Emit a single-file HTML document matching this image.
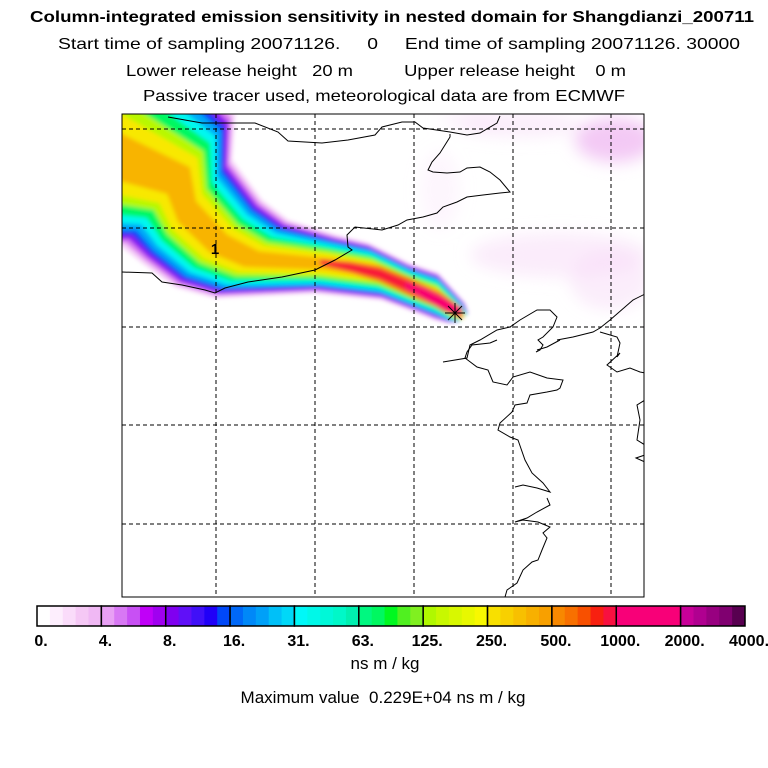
<!DOCTYPE html>
<html><head><meta charset="utf-8"><style>
html,body{margin:0;padding:0;background:#fff;}
svg{display:block;font-family:"Liberation Sans",sans-serif;}
text{white-space:pre;}
</style></head><body>
<svg id="chart" width="768" height="768" viewBox="0 0 768 768" xml:space="preserve">
<defs>
<clipPath id="mapclip"><rect x="122" y="114" width="522" height="483"/></clipPath>
<filter id="soft" x="-10%" y="-10%" width="120%" height="120%"><feGaussianBlur stdDeviation="2"/></filter>
<filter id="haze"><feGaussianBlur stdDeviation="8"/></filter>
</defs>
<text x="392" y="22" font-size="16" font-weight="bold" text-anchor="middle" textLength="724" lengthAdjust="spacingAndGlyphs">Column-integrated emission sensitivity in nested domain for Shangdianzi_200711</text>
<text x="399" y="49" font-size="16" text-anchor="middle" textLength="682" lengthAdjust="spacingAndGlyphs">Start time of sampling 20071126.     0     End time of sampling 20071126. 30000</text>
<text x="376" y="76" font-size="16" text-anchor="middle" textLength="500" lengthAdjust="spacingAndGlyphs">Lower release height   20 m          Upper release height    0 m</text>
<text x="384" y="101" font-size="16" text-anchor="middle" textLength="482" lengthAdjust="spacingAndGlyphs">Passive tracer used, meteorological data are from ECMWF</text>

<g clip-path="url(#mapclip)">
  <g id="haze" filter="url(#haze)" fill="#f8dcf8">
    <ellipse cx="615" cy="140" rx="40" ry="22" fill="#f0bcf2" opacity="0.8"/>
    <ellipse cx="520" cy="125" rx="60" ry="12" opacity="0.5"/>
    <ellipse cx="560" cy="255" rx="90" ry="22" opacity="0.55"/>
    <ellipse cx="610" cy="280" rx="40" ry="30" opacity="0.5"/>
    <ellipse cx="440" cy="190" rx="20" ry="40" opacity="0.25"/>
    <ellipse cx="470" cy="120" rx="30" ry="8" opacity="0.4"/>
  </g>
  <g id="plume" filter="url(#soft)"></g>
  <g id="grid"></g>
  <g fill="none" stroke="#000" stroke-width="1">
    <polyline points="168,117 185,120 202,123 255,123 278,132 288,141 322,143 348,140 375,135 382,127 402,122 415,122 423,128 450,132 467,135 480,133 497,123 500,116"/>
    <polyline points="450,134 450,137 440,153 432,162 428,170 433,172 447,173 460,172 467,168 480,167 490,172 500,180 510,192 500,193 483,195 467,197 457,202 443,207 437,213 423,217 407,220 398,225 382,230 355,227 347,235 348,247 352,250 335,260 315,270 282,277 248,282 225,288 215,293 205,290 182,285 162,282 152,273 122,272"/>
    <polyline points="443,362 467,358 470,345 480,340 497,330 510,327 520,320 537,310 550,310 557,317 553,327 543,337 538,340 543,345 540,350 536,352"/>
    <polyline points="557,340 573,337 593,332 600,328 610,320 633,300 645,294"/>
    <polyline points="600,332 617,337 620,343 617,357 620,353 607,365 617,372 630,368 640,372 645,373"/>
    <polyline points="497,340 490,343 472,345 467,352 465,358 477,367 488,370 493,382 507,385 513,377 530,372 547,378 563,380 560,388 557,390 547,392 530,395 527,403 515,405 512,412 500,423 498,430 510,437 518,440 525,460 532,473 543,483 550,492 537,488 523,485 515,487"/>
    <polyline points="547,498 550,505 537,512 527,518 515,522 523,520 538,522 550,527 543,533 547,538 542,550 538,560 532,562 523,570 517,583 507,590 505,597"/>
    <polyline points="537,350 547,347 560,340"/>
    <polyline points="645,400 637,405 640,420 637,440 645,445"/>
    <polyline points="645,455 636,458 645,462"/>
  </g>
  <text x="215" y="254" font-size="15" font-weight="bold" text-anchor="middle">1</text>
  <g stroke="#000" stroke-width="1">
    <line x1="445" y1="313" x2="465" y2="313"/><line x1="455" y1="303" x2="455" y2="323"/>
    <line x1="448" y1="306" x2="462" y2="320"/><line x1="462" y1="306" x2="448" y2="320"/>
  </g>
</g>
<rect x="122" y="114" width="522" height="483" fill="none" stroke="#000" stroke-width="1"/>

<g id="colorbar"></g>
<text x="385" y="669" font-size="17" text-anchor="middle">ns m / kg</text>
<text x="383" y="703" font-size="17" text-anchor="middle">Maximum value  0.229E+04 ns m / kg</text>
</svg>
<script>
// Colorbar data
const levelLabels = ["0.","4.","8.","16.","31.","63.","125.","250.","500.","1000.","2000.","4000."];
const segmentShades = [
  ["#ffffff","#fdeefd","#fadcfa","#f5c8f5","#f0b8f4"],
  ["#e8a0f4","#d878f4","#c850f4","#c000f8","#a000f0"],
  ["#8000f0","#6010f8","#4010f8","#2000f8","#0048f8"],
  ["#0068f8","#0088f8","#00a0f8","#00c0f8","#00d8f8"],
  ["#00f8f8","#00f8e8","#00f8d8","#00f8c8","#00f0b0"],
  ["#00f880","#00f860","#00f820","#50f020","#80f020"],
  ["#b0f800","#c8f800","#d8f800","#e8f800","#f8f800"],
  ["#f8e000","#f8d000","#f8c000","#f8b000","#f8a000"],
  ["#f88800","#f87000","#f85000","#f82010","#f81040"],
  ["#f80078","#f80078","#f80078","#f80078","#f80078"],
  ["#c80098","#b00090","#980080","#800070","#580050"]
];
// Plume outer edges (paired top/bottom)
const topX = [120,235,232,262,288,335,368,408,438,465,468];
const topY = [-10,114,160,200,220,235,243,263,273,303,313];
const botX = [-60,122,142,175,215,315,382,415,435,448,458];
const botY = [260,247,263,287,298,293,300,312,320,323,322];
const plumeLevels = [1.0,0.94,0.88,0.82,0.75,0.66,0.56,0.44,0.34,0.2];
const plumeColors = ["#f6cff8","#d878f0","#8a10f0","#1040f8","#00a8f8","#00f8f0","#00f860","#b8f800","#f8e800","#f8b400"];
const coreX = [320,350,380,410,440,462];
const coreY = [262,267,274,287,300,313];
const coreHW = [3,6,8,9,8,5];
const coreLevels = [1.0,0.6];
const coreColors = ["#f87010","#f81838"];
const tipX = [405,425,445,462];
const tipY = [285,294,305,313];
const tipHW = [3,6,7,4];
const gridX = [216,315,414,513,611];
const gridY = [129,228,327,425,524];

const NS = "http://www.w3.org/2000/svg";
const plume = document.getElementById("plume");
plumeLevels.forEach((f,i)=>{
  const top = topX.map((x,k)=>{
    const cx=(x+botX[k])/2, cy=(topY[k]+botY[k])/2;
    return (cx+f*(x-cx))+","+(cy+f*(topY[k]-cy));
  });
  const bot = botX.map((x,k)=>{
    const cx=(topX[k]+x)/2, cy=(topY[k]+botY[k])/2;
    return (cx+f*(x-cx))+","+(cy+f*(botY[k]-cy));
  }).reverse();
  const p = document.createElementNS(NS,"polygon");
  p.setAttribute("points", top.concat(bot).join(" "));
  p.setAttribute("fill", plumeColors[i]);
  
  
  plume.appendChild(p);
});
function poly(xs, ys, hws, f){
  const top = xs.map((x,i)=>x+","+(ys[i]-f*hws[i]));
  const bot = xs.map((x,i)=>x+","+(ys[i]+f*hws[i])).reverse();
  return top.concat(bot).join(" ");
}
function addBand(xs, ys, hws, levels, colors){
  levels.forEach((f,i)=>{
    const p = document.createElementNS(NS,"polygon");
    p.setAttribute("points", poly(xs,ys,hws,f));
    p.setAttribute("fill", colors[i]);
    
    
    plume.appendChild(p);
  });
}
addBand(coreX, coreY, coreHW, coreLevels, coreColors);
addBand(tipX, tipY, tipHW, [1.0], ["#f80070"]);

const grid = document.getElementById("grid");
gridX.forEach(x=>{
  const l = document.createElementNS(NS,"line");
  l.setAttribute("x1",x);l.setAttribute("x2",x);l.setAttribute("y1",114);l.setAttribute("y2",597);
  l.setAttribute("stroke","#000");l.setAttribute("stroke-dasharray","4,3");
  
  
  grid.appendChild(l);
});
gridY.forEach(y=>{
  const l = document.createElementNS(NS,"line");
  l.setAttribute("y1",y);l.setAttribute("y2",y);l.setAttribute("x1",122);l.setAttribute("x2",644);
  l.setAttribute("stroke","#000");l.setAttribute("stroke-dasharray","4,3");
  
  
  grid.appendChild(l);
});

// colorbar
const cb = document.getElementById("colorbar");
const cbX0 = 37, cbX1 = 745, cbY = 606, cbH = 20;
const segW = (cbX1-cbX0)/segmentShades.length;
segmentShades.forEach((shades,i)=>{
  const sw = segW/shades.length;
  shades.forEach((c,j)=>{
    const r = document.createElementNS(NS,"rect");
    r.setAttribute("x", cbX0+i*segW+j*sw);
    r.setAttribute("y", cbY);
    r.setAttribute("width", sw+0.5);
    r.setAttribute("height", cbH);
    r.setAttribute("fill", c);
    
    
    cb.appendChild(r);
  });
  const b = document.createElementNS(NS,"rect");
  b.setAttribute("x", cbX0+i*segW);
  b.setAttribute("y", cbY);
  b.setAttribute("width", segW);
  b.setAttribute("height", cbH);
  b.setAttribute("fill", "none");
  b.setAttribute("stroke", "#000");
  b.setAttribute("stroke-width", "1.5");
  
  
  cb.appendChild(b);
});
levelLabels.forEach((lab,i)=>{
  const t = document.createElementNS(NS,"text");
  t.setAttribute("x", cbX0+i*segW+4);
  t.setAttribute("y", 646);
  t.setAttribute("font-size", "16");
  t.setAttribute("font-weight", "bold");
  t.setAttribute("text-anchor", "middle");
  t.textContent = lab;
  
  
  cb.appendChild(t);
});
</script>
</body></html>
